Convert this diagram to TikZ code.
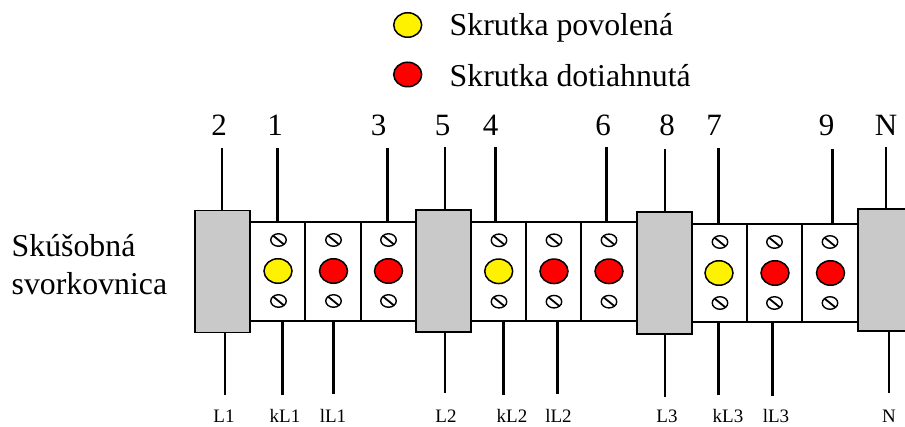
\documentclass[tikz,border=0pt]{standalone}
\usepackage{fontspec}
\setmainfont{Liberation Serif}
\usetikzlibrary{calc, shapes.geometric}

\tikzset{
    terminal/.style={rectangle,draw,line width=1.8pt,fill=white,minimum width=55.5pt,minimum height=98.5pt,inner sep=0pt,outer sep=0pt},
    block/.style={rectangle,draw,line width=1.8pt,fill=black!21,minimum width=55pt,minimum height=122pt,inner sep=0pt,outer sep=0pt},
    looseknob/.style={ellipse,draw,line width=1.5pt,fill=yellow,minimum width=28pt,minimum height=24.5pt,inner sep=0pt},
    tightknob/.style={ellipse,draw,line width=1.5pt,fill=red,minimum width=28pt,minimum height=24.5pt,inner sep=0pt},
    screw/.style={ellipse,draw,line width=1.4pt,fill=white,minimum width=15.5pt,minimum height=12.5pt,inner sep=0pt,
        path picture={\draw[line width=1.8pt] (path picture bounding box.north west) -- (path picture bounding box.south east);}},
    bignum/.style={font=\fontsize{31}{33}\selectfont,inner sep=0pt},
    bigtext/.style={font=\fontsize{31.8}{38}\selectfont,inner sep=0pt},
    smalltext/.style={font=\fontsize{19}{22}\selectfont,inner sep=0pt},
    thinwire/.style={draw,line width=1.6pt},
    thickwire/.style={draw,line width=3pt}
}

\begin{document}
\begin{tikzpicture}[x=1pt,y=-1pt]
    \useasboundingbox (0,0) rectangle (905,427);

    % legend
    \node[looseknob] (legA) at (407.7,25) {};
    \node[tightknob] (legB) at (407.7,74.5) {};
    \node[bigtext,anchor=base west] (legAtext) at (449.5,36) {Skrutka povolená};
    \node[bigtext,anchor=base west] (legBtext) at (449.5,86.7) {Skrutka dotiahnutá};

    % strip title
    \node[bigtext,anchor=base west] (titleA) at (11.5,257) {Skúšobná};
    \node[bigtext,anchor=base west] (titleB) at (11.5,295) {svorkovnica};

    % terminals
    \begin{scope}
        \node[terminal] (c1) at (277.5,271.5) {};
        \node[terminal] (c2) at (333,271.5) {};
        \node[terminal] (c3) at (388.5,271.5) {};
        \node[terminal] (c4) at (498.5,271.5) {};
        \node[terminal] (c5) at (553.7,271.5) {};
        \node[terminal] (c6) at (609,271.5) {};
        \node[terminal] (c7) at (719.5,273) {};
        \node[terminal] (c8) at (774.5,273) {};
        \node[terminal] (c9) at (830,273) {};
    \end{scope}

    % grey blocks
    \node[block] (b1) at (222.5,271.5) {};
    \node[block] (b2) at (443.3,271.3) {};
    \node[block] (b3) at (664.5,273) {};
    \node[block] (b4) at (885.5,270) {};

    % knobs
    \node[looseknob] (k1) at (278,271) {};
    \node[tightknob] (k2) at (333.5,271) {};
    \node[tightknob] (k3) at (388.5,271) {};
    \node[looseknob] (k4) at (498.7,271.3) {};
    \node[tightknob] (k5) at (554,271.3) {};
    \node[tightknob] (k6) at (609,271.3) {};
    \node[looseknob] (k7) at (719,273) {};
    \node[tightknob] (k8) at (775,273) {};
    \node[tightknob] (k9) at (830.5,273) {};

    % screws
    \begin{scope}[every node/.style={screw}]
        \node (s1a) at (278.5,240) {};
        \node (s1b) at (278.5,301) {};
        \node (s2a) at (333.5,240) {};
        \node (s2b) at (333.5,301) {};
        \node (s3a) at (388.5,240) {};
        \node (s3b) at (388.5,301) {};
        \node (s4a) at (499,240.3) {};
        \node (s4b) at (499,301.7) {};
        \node (s5a) at (554,240.3) {};
        \node (s5b) at (554,301.7) {};
        \node (s6a) at (609,240.3) {};
        \node (s6b) at (609,301.7) {};
        \node (s7a) at (720,242) {};
        \node (s7b) at (720,303) {};
        \node (s8a) at (774.5,242) {};
        \node (s8b) at (774.5,303) {};
        \node (s9a) at (830,242) {};
        \node (s9b) at (830,303) {};
    \end{scope}

    % top labels and their free wire ends
    \begin{scope}[every node/.style={bignum,anchor=base}]
        \node (n2) at (219,136) {2};
        \node (n1) at (275,136) {1};
        \node (n3) at (378.5,136) {3};
        \node (n5) at (442.5,136) {5};
        \node (n4) at (490.5,136) {4};
        \node (n6) at (603,136) {6};
        \node (n8) at (667,136) {8};
        \node (n7) at (714,136) {7};
        \node (n9) at (826.5,136) {9};
        \node (nN) at (886,136) {N};
    \end{scope}
    \coordinate (t2) at (221.7,148);
    \coordinate (t1) at (277.7,148.5);
    \coordinate (t3) at (387,148);
    \coordinate (t5) at (445,147);
    \coordinate (t4) at (495.7,147);
    \coordinate (t6) at (606,147);
    \coordinate (t8) at (665,149.5);
    \coordinate (t7) at (718,148);
    \coordinate (t9) at (832.7,149.5);
    \coordinate (tN) at (885.7,147);

    \path[thinwire] (t2) -- (t2 |- b1.north);
    \path[thickwire] (t1) -- (t1 |- c1.north);
    \path[thickwire] (t3) -- (t3 |- c3.north);
    \path[thinwire] (t5) -- (t5 |- b2.north);
    \path[thickwire] (t4) -- (t4 |- c4.north);
    \path[thickwire] (t6) -- (t6 |- c6.north);
    \path[thinwire] (t8) -- (t8 |- b3.north);
    \path[thickwire] (t7) -- (t7 |- c7.north);
    \path[thickwire] (t9) -- (t9 |- c9.north);
    \path[thinwire] (tN) -- (tN |- b4.north);

    % bottom labels and wires
    \begin{scope}[every node/.style={smalltext,anchor=base}]
        \node (lL1) at (224,423) {L1};
        \node (lkL1) at (285,423) {kL1};
        \node (llL1) at (333,423) {lL1};
        \node (lL2) at (446,423) {L2};
        \node (lkL2) at (512,423) {kL2};
        \node (llL2) at (558.5,423) {lL2};
        \node (lL3) at (667,423) {L3};
        \node (lkL3) at (728,423) {kL3};
        \node (llL3) at (776,423) {lL3};
        \node (lN) at (889,423) {N};
    \end{scope}
    \coordinate (w1) at (224.7,395);
    \coordinate (w2) at (282.3,395);
    \coordinate (w3) at (333.7,394);
    \coordinate (w4) at (445,393);
    \coordinate (w5) at (503.7,395);
    \coordinate (w6) at (557,394);
    \coordinate (w7) at (665,397);
    \coordinate (w8) at (718,395);
    \coordinate (w9) at (772,396);
    \coordinate (w10) at (889,393);

    \path[thinwire] (w1) -- (w1 |- b1.south);
    \path[thickwire] (w2) -- (w2 |- c1.south);
    \path[thickwire] (w3) -- (w3 |- c2.south);
    \path[thinwire] (w4) -- (w4 |- b2.south);
    \path[thickwire] (w5) -- (w5 |- c4.south);
    \path[thickwire] (w6) -- (w6 |- c5.south);
    \path[thinwire] (w7) -- (w7 |- b3.south);
    \path[thickwire] (w8) -- (w8 |- c7.south);
    \path[thickwire] (w9) -- (w9 |- c8.south);
    \path[thinwire] (w10) -- (w10 |- b4.south);
\end{tikzpicture}
\end{document}
